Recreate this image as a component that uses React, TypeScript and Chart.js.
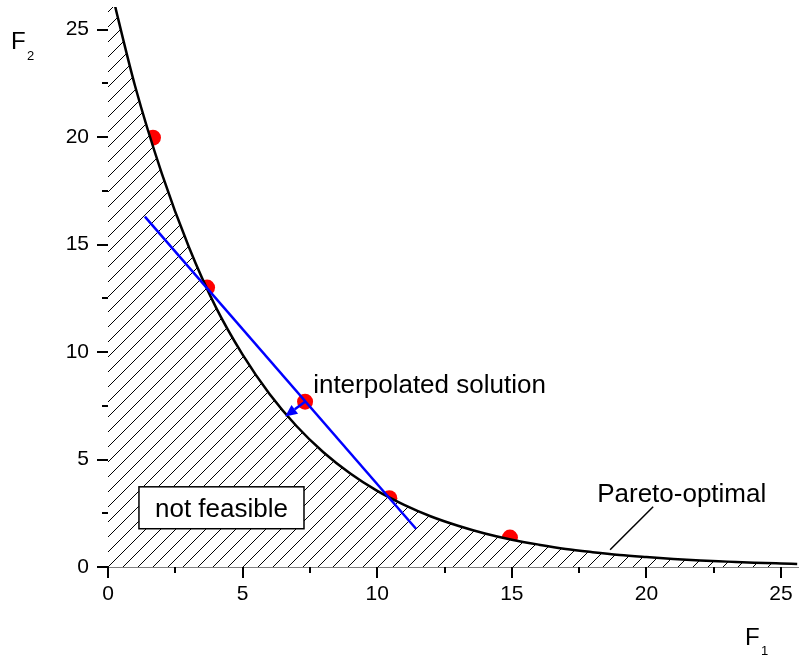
import React, { useEffect, useRef } from "react";
import { Chart, registerables } from "chart.js";

Chart.register(...registerables);

// Pareto front
const curveX = [0, 0.3, 1, 2, 3, 4, 5, 6, 7, 8, 9, 10, 11, 12, 13, 14, 15, 16, 17, 18, 19, 20, 21, 22, 23, 24, 25, 25.6];
const curveY = [27.5, 25.9, 22.4, 18.3, 14.9, 12.1, 9.88, 8.05, 6.56, 5.34, 4.35, 3.54, 2.89, 2.35, 1.92, 1.56, 1.27, 1.04, 0.84, 0.69, 0.56, 0.46, 0.37, 0.3, 0.25, 0.2, 0.164, 0.145];
const hatchEndX = 25;

// red solution points
const dotX = [1.67, 3.68, 7.32, 10.45, 14.93];
const dotY = [19.97, 13.0, 7.69, 3.2, 1.37];

// blue interpolation line
const blueX = [1.37, 11.44];
const blueY = [16.3, 1.78];

// arrow from interpolated solution to the front
const arrowFrom = [7.32, 7.69];
const arrowTo = [6.58, 7.0];

// ticks
const xTicks = [0, 5, 10, 15, 20, 25];
const yTicks = [0, 5, 10, 15, 20, 25];
const xMinor = [2.5, 7.5, 12.5, 17.5, 22.5];
const yMinor = [2.5, 7.5, 12.5, 17.5, 22.5];

const FONT = '"Liberation Sans", Arial, sans-serif';

function makePattern(): CanvasPattern | string {
  const c = document.createElement("canvas");
  const s = 15;
  c.width = s;
  c.height = s;
  const g = c.getContext("2d");
  if (!g) return "white";
  g.fillStyle = "#ffffff";
  g.fillRect(0, 0, s, s);
  g.strokeStyle = "#000000";
  g.lineWidth = 1;
  g.beginPath();
  g.moveTo(-2, s + 2);
  g.lineTo(s + 2, -2);
  g.moveTo(-3, 3);
  g.lineTo(3, -3);
  g.moveTo(s - 3, s + 3);
  g.lineTo(s + 3, s - 3);
  g.stroke();
  const p = g.createPattern(c, "repeat");
  return p || "white";
}

const overlay = {
  id: "overlay",
  afterDraw(chart: any) {
    const ctx = chart.ctx as CanvasRenderingContext2D;
    const xs = chart.scales.x;
    const ys = chart.scales.y;
    const area = chart.chartArea;
    const px = (v: number) => xs.getPixelForValue(v);
    const py = (v: number) => ys.getPixelForValue(v);
    ctx.save();

    // ticks
    ctx.strokeStyle = "#000";
    ctx.lineWidth = 2;
    ctx.beginPath();
    xTicks.forEach((v) => {
      const x = Math.round(px(v));
      ctx.moveTo(x, area.bottom);
      ctx.lineTo(x, area.bottom + 11);
    });
    xMinor.forEach((v) => {
      const x = Math.round(px(v));
      ctx.moveTo(x, area.bottom);
      ctx.lineTo(x, area.bottom + 6);
    });
    yTicks.forEach((v) => {
      const y = Math.round(py(v));
      ctx.moveTo(area.left, y);
      ctx.lineTo(area.left - 11, y);
    });
    yMinor.forEach((v) => {
      const y = Math.round(py(v));
      ctx.moveTo(area.left, y);
      ctx.lineTo(area.left - 6, y);
    });
    ctx.stroke();

    // arrow
    const x0 = px(arrowFrom[0]), y0 = py(arrowFrom[1]);
    const x1 = px(arrowTo[0]), y1 = py(arrowTo[1]);
    const ang = Math.atan2(y1 - y0, x1 - x0);
    const hl = 12, hw = 5.5;
    const bx = x1 - hl * Math.cos(ang), by = y1 - hl * Math.sin(ang);
    ctx.strokeStyle = "#0000ff";
    ctx.fillStyle = "#0000ff";
    ctx.lineWidth = 2.5;
    ctx.beginPath();
    ctx.moveTo(x0, y0);
    ctx.lineTo(bx, by);
    ctx.stroke();
    ctx.beginPath();
    ctx.moveTo(x1, y1);
    ctx.lineTo(bx - hw * Math.sin(ang), by + hw * Math.cos(ang));
    ctx.lineTo(bx + hw * Math.sin(ang), by - hw * Math.cos(ang));
    ctx.closePath();
    ctx.fill();

    // texts
    ctx.fillStyle = "#000";
    ctx.textBaseline = "alphabetic";
    ctx.textAlign = "left";
    ctx.font = `26px ${FONT}`;
    ctx.fillText("interpolated solution", px(7.62), py(8.11));
    ctx.fillText("Pareto-optimal", px(18.17), py(3.04));

    // pointer
    ctx.strokeStyle = "#000";
    ctx.lineWidth = 1.5;
    ctx.beginPath();
    ctx.moveTo(px(20.25), py(2.8));
    ctx.lineTo(px(18.65), py(0.8));
    ctx.stroke();

    // not feasible box
    const bx0 = px(1.15), bx1 = px(7.28), by0 = py(3.73), by1 = py(1.78);
    ctx.fillStyle = "#fff";
    ctx.fillRect(bx0, by0, bx1 - bx0, by1 - by0);
    ctx.strokeStyle = "#000";
    ctx.lineWidth = 1.5;
    ctx.strokeRect(bx0, by0, bx1 - bx0, by1 - by0);
    ctx.fillStyle = "#000";
    ctx.textAlign = "center";
    ctx.fillText("not feasible", (bx0 + bx1) / 2, py(2.34));

    // axis titles
    ctx.textAlign = "left";
    ctx.textBaseline = "alphabetic";
    ctx.font = `24px ${FONT}`;
    ctx.fillText("F", 11, 49);
    ctx.fillText("F", 745, 645);
    ctx.font = `13px ${FONT}`;
    ctx.fillText("2", 27, 60);
    ctx.fillText("1", 761, 655);

    ctx.restore();
  },
};

export default function App() {
  const ref = useRef<HTMLCanvasElement | null>(null);
  useEffect(() => {
    if (!ref.current) return;
    const pattern = makePattern();
    const curve = curveX.map((x, i) => ({ x, y: curveY[i] }));
    const hatch = curve.filter((p) => p.x <= hatchEndX);
    const dots = dotX.map((x, i) => ({ x, y: dotY[i] }));
    const blue = blueX.map((x, i) => ({ x, y: blueY[i] }));
    const noPad = (s: any) => {
      s.paddingTop = 0;
      s.paddingBottom = 0;
      s.paddingLeft = 0;
      s.paddingRight = 0;
    };
    const chart = new Chart(ref.current, {
      type: "scatter",
      data: {
        datasets: [
          {
            type: "scatter",
            data: dots,
            pointRadius: 8,
            pointBackgroundColor: "#ff0000",
            pointBorderWidth: 0,
            backgroundColor: "#ff0000",
            order: 4,
          } as any,
          {
            type: "line",
            data: hatch,
            borderWidth: 0,
            pointRadius: 0,
            fill: "origin",
            backgroundColor: pattern,
            cubicInterpolationMode: "monotone",
            order: 3,
          } as any,
          {
            type: "line",
            data: curve,
            borderColor: "#000",
            borderWidth: 2.5,
            pointRadius: 0,
            fill: false,
            cubicInterpolationMode: "monotone",
            order: 2,
          } as any,
          {
            type: "line",
            data: blue,
            borderColor: "#0000ff",
            borderWidth: 2.5,
            pointRadius: 0,
            fill: false,
            order: 1,
          } as any,
        ],
      },
      options: {
        responsive: false,
        maintainAspectRatio: false,
        devicePixelRatio: 1,
        animation: false,
        layout: { autoPadding: false, padding: { left: 8, top: 7, right: 1, bottom: 0 } },
        plugins: { legend: { display: false }, tooltip: { enabled: false } },
        scales: {
          x: {
            type: "linear",
            min: 0,
            max: 25.63,
            afterBuildTicks: (s: any) => {
              s.ticks = xTicks.map((v) => ({ value: v }));
            },
            afterFit: (s: any) => {
              s.height = 89;
              noPad(s);
            },
            grid: { display: false, drawTicks: false },
            border: { display: true, color: "#808080", width: 1 },
            ticks: {
              color: "#000",
              font: { family: FONT, size: 21 },
              padding: 15,
              maxRotation: 0,
              autoSkip: false,
            },
          },
          y: {
            type: "linear",
            min: 0,
            max: 26.05,
            afterBuildTicks: (s: any) => {
              s.ticks = yTicks.map((v) => ({ value: v }));
            },
            afterFit: (s: any) => {
              s.width = 100;
              noPad(s);
            },
            grid: { display: false, drawTicks: false },
            border: { display: true, color: "#808080", width: 1 },
            ticks: {
              color: "#000",
              font: { family: FONT, size: 21 },
              padding: 19,
              autoSkip: false,
            },
          },
        },
      },
      plugins: [overlay],
    });
    return () => chart.destroy();
  }, []);
  return (
    <div style={{ position: "absolute", left: 0, top: 0, width: 799, height: 656 }}>
      <canvas ref={ref} width={799} height={656} style={{ display: "block" }} />
    </div>
  );
}
